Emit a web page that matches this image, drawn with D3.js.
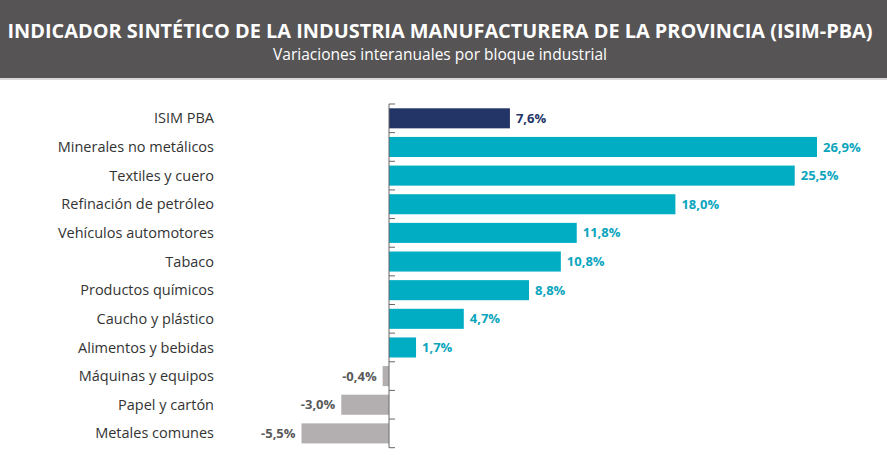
<!DOCTYPE html>
<html><head><meta charset="utf-8">
<script src="https://cdn.jsdelivr.net/npm/d3@7"></script>
<style>body{margin:0;background:#fff}svg{display:block}</style>
</head><body>
<svg id="c" width="887" height="459"></svg>
<script>
const categories = ["ISIM PBA","Minerales no metálicos","Textiles y cuero","Refinación de petróleo","Vehículos automotores","Tabaco","Productos químicos","Caucho y plástico","Alimentos y bebidas","Máquinas y equipos","Papel y cartón","Metales comunes"];
const values = [7.6,26.9,25.5,18.0,11.8,10.8,8.8,4.7,1.7,-0.4,-3.0,-5.5];
const title = "INDICADOR SINTÉTICO DE LA INDUSTRIA MANUFACTURERA DE LA PROVINCIA (ISIM-PBA)";
const subtitle = "Variaciones interanuales por bloque industrial";

const svg = d3.select("#c");
svg.append("rect").attr("x",0).attr("y",0).attr("width",887).attr("height",78).attr("fill","#565455");
svg.append("rect").attr("x",0).attr("y",78).attr("width",887).attr("height",2).attr("fill","#d9d9d9");
svg.append("text").attr("x",440).attr("y",37.5).attr("text-anchor","middle")
  .attr("font-family","'Open Sans', sans-serif").attr("font-weight","bold").attr("font-size",19.5)
  .attr("fill","#fff").attr("textLength",865).attr("lengthAdjust","spacingAndGlyphs").text(title);
svg.append("text").attr("x",440).attr("y",59.5).attr("text-anchor","middle")
  .attr("font-family","'Open Sans', sans-serif").attr("font-size",15.5)
  .attr("fill","#fff").attr("textLength",334).attr("lengthAdjust","spacingAndGlyphs").text(subtitle);

const x = d3.scaleLinear().domain([0, 26.9]).range([389, 817]);
const y = d3.scaleBand().domain(categories).range([104, 447.7]).paddingInner(0.3).paddingOuter(0.15);

const color = (d,i) => i===0 ? "#233466" : (d<0 ? "#b3afb0" : "#00adc3");
const tcolor = (d,i) => i===0 ? "#233466" : (d<0 ? "#595959" : "#0aa5bd");

svg.append("g").selectAll("rect").data(values).join("rect")
  .attr("x", d => x(Math.min(0,d))).attr("width", d => Math.abs(x(d)-x(0)))
  .attr("y", (d,i) => y(categories[i])).attr("height", y.bandwidth())
  .attr("fill", color);

// axis line and ticks at band boundaries
const g = svg.append("g");
g.append("line").attr("x1",x(0)).attr("x2",x(0)).attr("y1",104).attr("y2",447.7).attr("stroke","#666").attr("stroke-width",1);
const bounds = d3.range(categories.length+1).map(i => 104 + i*(343.7/categories.length));
g.selectAll("line.t").data(bounds).join("line").attr("class","t")
  .attr("x1",x(0)).attr("x2",x(0)+6).attr("y1",d=>d).attr("y2",d=>d).attr("stroke","#666");

svg.append("g").selectAll("text").data(categories).join("text")
  .attr("x",214).attr("y",d => y(d)+y.bandwidth()/2).attr("dy","0.35em")
  .attr("text-anchor","end").attr("font-family","'Open Sans', sans-serif").attr("font-size",14.5)
  .attr("fill","#333").text(d=>d);

const fmt = v => v.toFixed(1).replace(".",",") + "%";
svg.append("g").selectAll("text").data(values).join("text")
  .attr("x", d => d<0 ? x(d)-6 : x(d)+6)
  .attr("y",(d,i) => y(categories[i])+y.bandwidth()/2).attr("dy","0.35em")
  .attr("text-anchor", d => d<0 ? "end" : "start")
  .attr("font-family","'Open Sans', sans-serif").attr("font-weight","bold").attr("font-size",13)
  .attr("fill", tcolor).text(fmt);
</script>
</body></html>
